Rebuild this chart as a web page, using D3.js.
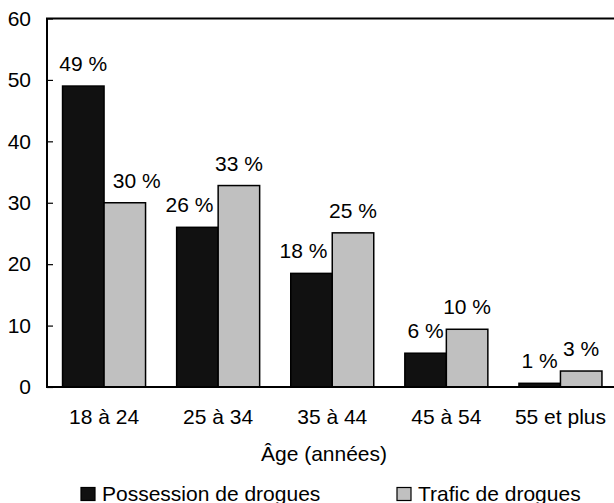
<!DOCTYPE html>
<html>
<head>
<meta charset="utf-8">
<script src="https://cdn.jsdelivr.net/npm/d3@7"></script>
<style>
  html, body { margin: 0; padding: 0; background: #fff; }
  svg { display: block; font-family: "Liberation Sans", Arial, sans-serif; }
</style>
</head>
<body>
<div id="chart"></div>
<script>
const ageGroups = ['18 à 24', '25 à 34', '35 à 44', '45 à 54', '55 et plus'];
const possession = [49, 26, 18.5, 5.5, 0.6];
const trafic = [30, 32.8, 25.1, 9.4, 2.6];
const possessionLabels = ['49 %', '26 %', '18 %', '6 %', '1 %'];
const traficLabels = ['30 %', '33 %', '25 %', '10 %', '3 %'];
const yTicks = [0, 10, 20, 30, 40, 50, 60];
const seriesNames = ['Possession de drogues', 'Trafic de drogues'];
const seriesColors = ['#111111', '#c0c0c0'];

const width = 614;
const height = 503;
const margin = { top: 18.5, left: 47, bottom: 116 };
const plotRight = 617.5;
const fontSize = 21;

// hand nudges of some value labels, as in the original layout
const labelNudge = [[0, -8, -8, 0, 0], [12, 0, 0, 0, 0]];

const svg = d3.select('#chart').append('svg')
  .attr('width', width)
  .attr('height', height);

const x = d3.scaleBand()
  .domain(ageGroups)
  .range([margin.left, plotRight]);

const y = d3.scaleLinear()
  .domain([0, 60])
  .range([height - margin.bottom, margin.top]);

const barW = 41.5;
const series = [possession, trafic];
const labels = [possessionLabels, traficLabels];

// bars
series.forEach((values, s) => {
  const rows = ageGroups.map((g, i) => ({ g, i, v: values[i], label: labels[s][i] }));
  const bx = d => x(d.g) + x.bandwidth() / 2 - barW + s * barW;

  svg.append('g').selectAll('rect')
    .data(rows)
    .join('rect')
    .attr('x', bx)
    .attr('y', d => y(d.v))
    .attr('width', barW)
    .attr('height', d => y(0) - y(d.v))
    .attr('fill', seriesColors[s])
    .attr('stroke', '#000')
    .attr('stroke-width', 1.5);

  svg.append('g').selectAll('text')
    .data(rows)
    .join('text')
    .attr('x', d => bx(d) + barW / 2 + labelNudge[s][d.i])
    .attr('y', d => y(d.v) - 15)
    .attr('text-anchor', 'middle')
    .attr('font-size', fontSize)
    .text(d => d.label);
});

// y axis
const yAxis = d3.axisLeft(y).tickValues(yTicks).tickSize(-6).tickPadding(16);
const yGroup = svg.append('g')
  .attr('transform', `translate(${margin.left},0)`)
  .call(yAxis);
yGroup.select('.domain').remove();
yGroup.selectAll('.tick line').attr('stroke', '#000').attr('stroke-width', 1.2);
yGroup.selectAll('.tick text')
  .attr('font-size', fontSize)
  .attr('font-family', '"Liberation Sans", Arial, sans-serif')
  .attr('fill', '#000');

// frame: left, top and bottom lines
svg.append('path')
  .attr('d', `M${width},${margin.top}H${margin.left}V${y(0)}H${width}`)
  .attr('fill', 'none')
  .attr('stroke', '#000')
  .attr('stroke-width', 2);

// x axis labels
const xAxis = d3.axisBottom(x).tickSize(0).tickPadding(22);
const xGroup = svg.append('g')
  .attr('transform', `translate(0,${y(0)})`)
  .call(xAxis);
xGroup.select('.domain').remove();
xGroup.selectAll('.tick text')
  .attr('font-size', fontSize)
  .attr('font-family', '"Liberation Sans", Arial, sans-serif')
  .attr('fill', '#000');

svg.append('text')
  .attr('x', 324)
  .attr('y', 461)
  .attr('text-anchor', 'middle')
  .attr('font-size', fontSize)
  .text('Âge (années)');

// legend
const legendX = [81, 397];
const legend = svg.append('g').selectAll('g')
  .data(seriesNames)
  .join('g')
  .attr('transform', (d, i) => `translate(${legendX[i]},487.5)`);
legend.append('rect')
  .attr('width', 14)
  .attr('height', 13)
  .attr('fill', (d, i) => seriesColors[i])
  .attr('stroke', '#000')
  .attr('stroke-width', 1.2);
legend.append('text')
  .attr('x', 21)
  .attr('y', 13.5)
  .attr('font-size', fontSize)
  .text(d => d);
</script>
</body>
</html>
